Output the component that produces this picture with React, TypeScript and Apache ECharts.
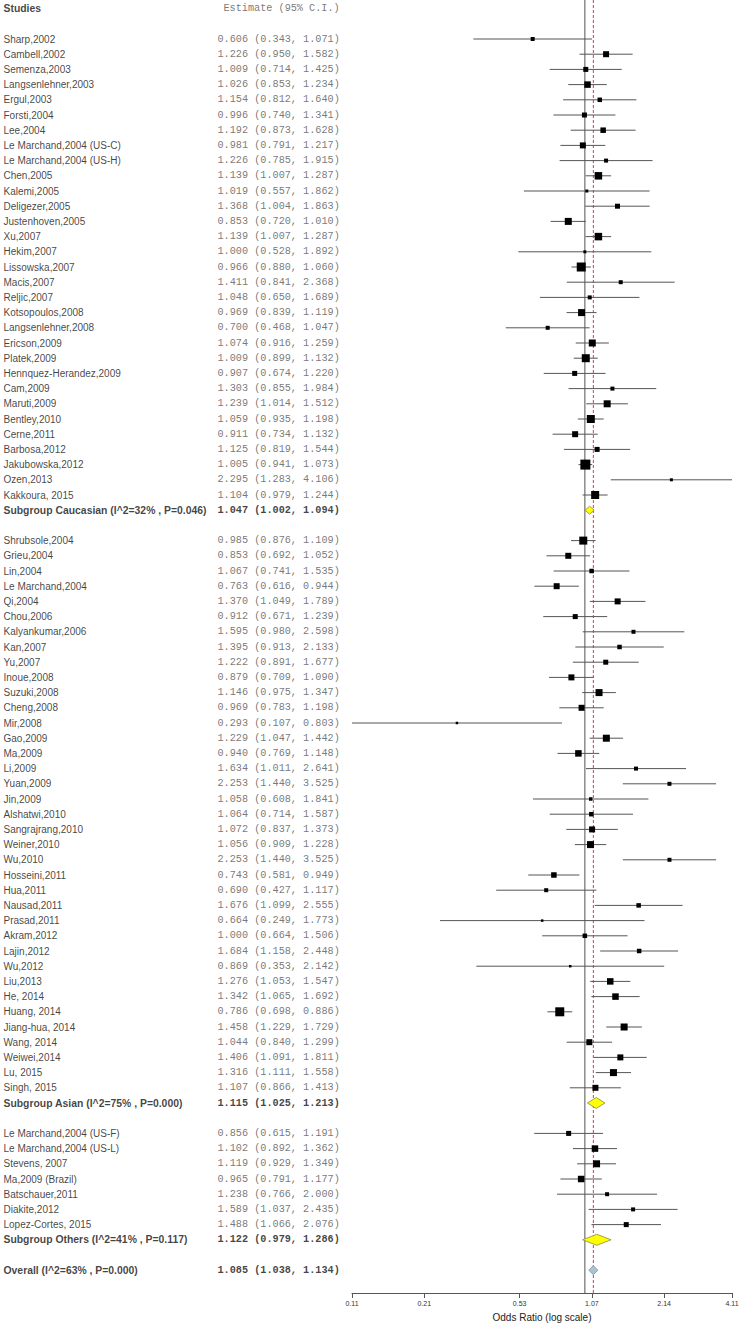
import React, { useEffect, useRef } from 'react';
import * as echarts from 'echarts';

// ---------------- DATA ----------------
const caucasianStudies = ['Sharp,2002','Cambell,2002','Semenza,2003','Langsenlehner,2003','Ergul,2003','Forsti,2004','Lee,2004','Le Marchand,2004 (US-C)','Le Marchand,2004 (US-H)','Chen,2005','Kalemi,2005','Deligezer,2005','Justenhoven,2005','Xu,2007','Hekim,2007','Lissowska,2007','Macis,2007','Reljic,2007','Kotsopoulos,2008','Langsenlehner,2008','Ericson,2009','Platek,2009','Hennquez-Herandez,2009','Cam,2009','Maruti,2009','Bentley,2010','Cerne,2011','Barbosa,2012','Jakubowska,2012','Ozen,2013','Kakkoura, 2015'];
const caucasianOR = [0.606,1.226,1.009,1.026,1.154,0.996,1.192,0.981,1.226,1.139,1.019,1.368,0.853,1.139,1.000,0.966,1.411,1.048,0.969,0.700,1.074,1.009,0.907,1.303,1.239,1.059,0.911,1.125,1.005,2.295,1.104];
const caucasianLo = [0.343,0.950,0.714,0.853,0.812,0.740,0.873,0.791,0.785,1.007,0.557,1.004,0.720,1.007,0.528,0.880,0.841,0.650,0.839,0.468,0.916,0.899,0.674,0.855,1.014,0.935,0.734,0.819,0.941,1.283,0.979];
const caucasianHi = [1.071,1.582,1.425,1.234,1.640,1.341,1.628,1.217,1.915,1.287,1.862,1.863,1.010,1.287,1.892,1.060,2.368,1.689,1.119,1.047,1.259,1.132,1.220,1.984,1.512,1.198,1.132,1.544,1.073,4.106,1.244];
const caucasianWeight = [4,6,5,6.5,4.5,5,5.5,6,4,7.5,3,5,7,7.5,3,9,4,4,7,4,7,8,5,4,7,8,6,5,10,3,8];

const asianStudies = ['Shrubsole,2004','Grieu,2004','Lin,2004','Le Marchand,2004','Qi,2004','Chou,2006','Kalyankumar,2006','Kan,2007','Yu,2007','Inoue,2008','Suzuki,2008','Cheng,2008','Mir,2008','Gao,2009','Ma,2009','Li,2009','Yuan,2009','Jin,2009','Alshatwi,2010','Sangrajrang,2010','Weiner,2010','Wu,2010','Hosseini,2011','Hua,2011','Nausad,2011','Prasad,2011','Akram,2012','Lajin,2012','Wu,2012','Liu,2013','He, 2014','Huang, 2014','Jiang-hua, 2014','Wang, 2014','Weiwei,2014','Lu, 2015','Singh, 2015'];
const asianOR = [0.985,0.853,1.067,0.763,1.370,0.912,1.595,1.395,1.222,0.879,1.146,0.969,0.293,1.229,0.940,1.634,2.253,1.058,1.064,1.072,1.056,2.253,0.743,0.690,1.676,0.664,1.000,1.684,0.869,1.276,1.342,0.786,1.458,1.044,1.406,1.316,1.107];
const asianLo = [0.876,0.692,0.741,0.616,1.049,0.671,0.980,0.913,0.891,0.709,0.975,0.783,0.107,1.047,0.769,1.011,1.440,0.608,0.714,0.837,0.909,1.440,0.581,0.427,1.099,0.249,0.664,1.158,0.353,1.053,1.065,0.698,1.229,0.840,1.091,1.111,0.866];
const asianHi = [1.109,1.052,1.535,0.944,1.789,1.239,2.598,2.133,1.677,1.090,1.347,1.198,0.803,1.442,1.148,2.641,3.525,1.841,1.587,1.373,1.228,3.525,0.949,1.117,2.555,1.773,1.506,2.448,2.142,1.547,1.692,0.886,1.729,1.299,1.811,1.558,1.413];
const asianWeight = [8,6,4.5,6,6,5,4,4.5,5,6,7,6,2.5,7,6.5,4,4,3.5,4.5,6,7,4,5.5,4,4.5,2.5,4.5,4.5,2.5,6.5,6.5,9,7,6,6,7,6];

const otherStudies = ['Le Marchand,2004 (US-F)','Le Marchand,2004 (US-L)','Stevens, 2007','Ma,2009 (Brazil)','Batschauer,2011','Diakite,2012','Lopez-Cortes, 2015'];
const otherOR = [0.856,1.102,1.119,0.965,1.238,1.589,1.488];
const otherLo = [0.615,0.892,0.929,0.791,0.766,1.037,1.066];
const otherHi = [1.191,1.362,1.349,1.177,2.000,2.435,2.076];
const otherWeight = [5,6.5,7,6.5,4,4,5];

const summaryLabels = ['Subgroup Caucasian (I^2=32% , P=0.046)','Subgroup Asian (I^2=75% , P=0.000)','Subgroup Others (I^2=41% , P=0.117)','Overall (I^2=63% , P=0.000)'];
const summaryOR = [1.047,1.115,1.122,1.085];
const summaryLo = [1.002,1.025,0.979,1.038];
const summaryHi = [1.094,1.213,1.286,1.134];

const tickValues = [0.107,0.214,0.535,1.07,2.14,4.106];
const tickLabels = ['0.11','0.21','0.53','1.07','2.14','4.11'];

// ---------------- LAYOUT / STYLE ----------------
const W = 740, H = 1325;
const AXIS_Y = 1293;
const Y_MIN = -0.566, Y_MAX = 84.5;
const PLOT_LEFT = 352, PLOT_RIGHT = 8;
const NAME_X = 3, EST_X = 217, EST_HEAD_X = 223;
const SUMMARY_FILL = ['#FFFF00','#FFFF00','#FFFF00','#A9C3D3'];
const SUMMARY_STROKE = ['#8C8C3C','#8C8C3C','#8C8C3C','#7F95A3'];
const SUMMARY_H = [8, 11, 11, 9];

const fmt = (v: number) => v.toFixed(3);
const estText = (e: number, l: number, h: number) => `${fmt(e)} (${fmt(l)}, ${fmt(h)})`;

type Study = { row: number; name: string; e: number; l: number; h: number; w: number };
type Summary = { row: number; idx: number };

function buildRows() {
  const studies: Study[] = [];
  const summaries: Summary[] = [];
  let r = 2;
  const groups = [
    [caucasianStudies, caucasianOR, caucasianLo, caucasianHi, caucasianWeight],
    [asianStudies, asianOR, asianLo, asianHi, asianWeight],
    [otherStudies, otherOR, otherLo, otherHi, otherWeight],
  ] as any[];
  groups.forEach((g, gi) => {
    const [names, or, lo, hi, wt] = g;
    names.forEach((n: string, i: number) => {
      studies.push({ row: r++, name: n, e: or[i], l: lo[i], h: hi[i], w: wt[i] });
    });
    summaries.push({ row: r++, idx: gi });
    r++; // blank row
  });
  summaries.push({ row: r, idx: 3 });
  return { studies, summaries };
}

export default function App() {
  const ref = useRef<HTMLDivElement>(null);
  useEffect(() => {
    document.body.style.margin = '0';
    const chart = echarts.init(ref.current!, null, { renderer: 'svg' });
    const { studies, summaries } = buildRows();
    const ln = Math.log;

    const nameFont = { fontFamily: 'Liberation Sans, Arial, sans-serif', fontSize: 10, color: '#111' };
    const monoFont = { fontFamily: 'Liberation Mono, Courier New, monospace', fontSize: 10.2, color: '#555' };

    const nameData: any[] = [];
    const estData: any[] = [];
    nameData.push({ value: [NAME_X, 0], name: 'Studies', label: { fontWeight: 'bold', fontSize: 10.4 } });
    estData.push({ value: [EST_HEAD_X, 0], name: 'Estimate (95% C.I.)' });
    studies.forEach((s) => {
      nameData.push({ value: [NAME_X, s.row], name: s.name });
      estData.push({ value: [EST_X, s.row], name: estText(s.e, s.l, s.h) });
    });
    summaries.forEach((s) => {
      nameData.push({ value: [NAME_X, s.row], name: summaryLabels[s.idx], label: { fontWeight: 'bold', fontSize: 10.4 } });
      estData.push({
        value: [EST_X, s.row],
        name: estText(summaryOR[s.idx], summaryLo[s.idx], summaryHi[s.idx]),
        label: { fontWeight: 'bold', color: '#111' },
      });
    });

    const textSeries = (data: any[], font: any) => ({
      type: 'scatter',
      xAxisIndex: 1,
      yAxisIndex: 1,
      symbolSize: 1,
      itemStyle: { color: 'rgba(0,0,0,0)' },
      silent: true,
      label: { show: true, position: 'right', distance: 0, formatter: '{b}', align: 'left', verticalAlign: 'middle', ...font },
      data,
    });

    const option: any = {
      animation: false,
      backgroundColor: '#fff',
      grid: [
        { left: PLOT_LEFT, right: PLOT_RIGHT, top: 0, height: AXIS_Y, outerBoundsMode: 'none', containLabel: false },
        { left: 0, width: 350, top: 0, height: AXIS_Y, outerBoundsMode: 'none', containLabel: false },
      ],
      xAxis: [
        {
          gridIndex: 0,
          type: 'value',
          position: 'bottom',
          min: ln(tickValues[0]),
          max: ln(tickValues[tickValues.length - 1]),
          axisLine: { show: true, onZero: false, lineStyle: { color: '#555', width: 1 } },
          axisTick: { show: true, customValues: tickValues.map(ln), length: 5, lineStyle: { color: '#555' } },
          axisLabel: {
            show: true,
            customValues: tickValues.map(ln),
            formatter: (v: number) => {
              let best = 0;
              tickValues.forEach((t, i) => { if (Math.abs(ln(t) - v) < Math.abs(ln(tickValues[best]) - v)) best = i; });
              return tickLabels[best];
            },
            fontSize: 7,
            color: '#333',
            margin: 7,
            fontFamily: 'Liberation Sans, Arial, sans-serif',
          },
          splitLine: { show: false },
          name: 'Odds Ratio (log scale)',
          nameLocation: 'middle',
          nameGap: 19,
          nameTextStyle: { fontSize: 10, color: '#222', fontFamily: 'Liberation Sans, Arial, sans-serif' },
        },
        { gridIndex: 1, type: 'value', min: 0, max: 350, show: false },
      ],
      yAxis: [
        { gridIndex: 0, type: 'value', inverse: true, min: Y_MIN, max: Y_MAX, show: false },
        { gridIndex: 1, type: 'value', inverse: true, min: Y_MIN, max: Y_MAX, show: false },
      ],
      series: [
        {
          type: 'custom',
          xAxisIndex: 0,
          yAxisIndex: 0,
          silent: true,
          clip: false,
          data: [[0, 0], [ln(summaryOR[3]), 1]],
          encode: { x: 0 },
          renderItem: (params: any, api: any) => {
            const x = api.value(0);
            const kind = api.value(1);
            const p1 = api.coord([x, Y_MIN]);
            const p2 = api.coord([x, Y_MAX]);
            return {
              type: 'line',
              shape: { x1: p1[0], y1: p1[1], x2: p2[0], y2: p2[1] },
              style: kind === 0
                ? { stroke: '#7a7a7a', lineWidth: 1.3 }
                : { stroke: '#E03A3A', lineWidth: 1, lineDash: [3, 2] },
            };
          },
        },
        {
          type: 'custom',
          xAxisIndex: 0,
          yAxisIndex: 0,
          silent: true,
          clip: false,
          data: studies.map((s) => [s.row, ln(s.l), ln(s.h), ln(s.e), s.w]),
          encode: { x: [1, 2, 3], y: 0 },
          renderItem: (params: any, api: any) => {
            const r = api.value(0);
            const p1 = api.coord([api.value(1), r]);
            const p2 = api.coord([api.value(2), r]);
            const c = api.coord([api.value(3), r]);
            const sz = api.value(4);
            return {
              type: 'group',
              children: [
                { type: 'line', shape: { x1: p1[0], y1: p1[1], x2: p2[0], y2: p2[1] }, style: { stroke: '#555', lineWidth: 1 } },
                { type: 'rect', shape: { x: c[0] - sz / 2, y: c[1] - sz / 2, width: sz, height: sz }, style: { fill: '#000' } },
              ],
            };
          },
        },
        {
          type: 'custom',
          xAxisIndex: 0,
          yAxisIndex: 0,
          silent: true,
          clip: false,
          data: summaries.map((s) => [s.row, ln(summaryLo[s.idx]), ln(summaryHi[s.idx]), ln(summaryOR[s.idx]), s.idx]),
          encode: { x: [1, 2, 3], y: 0 },
          renderItem: (params: any, api: any) => {
            const r = api.value(0);
            const idx = api.value(4);
            const pl = api.coord([api.value(1), r]);
            const ph = api.coord([api.value(2), r]);
            const pc = api.coord([api.value(3), r]);
            const hh = SUMMARY_H[idx] / 2;
            return {
              type: 'polygon',
              shape: { points: [[pl[0], pl[1]], [pc[0], pc[1] - hh], [ph[0], ph[1]], [pc[0], pc[1] + hh]] },
              style: { fill: SUMMARY_FILL[idx], stroke: SUMMARY_STROKE[idx], lineWidth: 0.8 },
            };
          },
        },
        textSeries(nameData, nameFont),
        textSeries(estData, monoFont),
      ],
    };
    chart.setOption(option);
    return () => chart.dispose();
  }, []);
  return <div ref={ref} style={{ width: W, height: H }} />;
}
